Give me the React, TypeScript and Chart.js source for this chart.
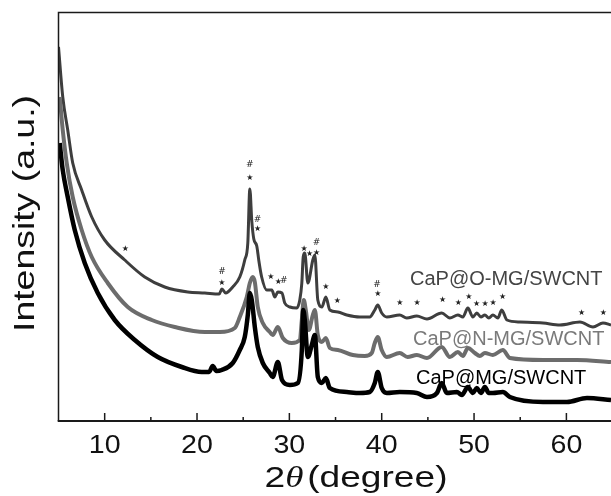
import React, { useEffect, useRef } from "react";
import { Chart, registerables } from "chart.js";

Chart.register(...registerables);

// ---- data (2θ in degrees, intensity in arbitrary units) ----
const oTheta = [5.0,5.46,6.0,6.54,7.51,8.6,10.0,12.17,14.34,16.5,19.0,20.84,22.4,22.7,23.1,23.87,24.63,25.17,25.5,25.72,25.93,26.15,26.47,26.7,27.0,27.55,28.1,28.43,28.75,29.2,29.5,30.05,30.8,31.13,31.35,31.5,31.67,32.0,32.54,32.76,33.08,33.52,33.95,34.38,35.25,36.22,37.63,38.7,39.25,39.57,40.0,40.55,41.95,42.71,43.8,44.9,46.5,47.38,48.25,48.79,49.33,49.87,50.3,50.74,51.17,51.6,52.04,52.58,53.0,53.56,54.97,57.46,59.3,61.47,62.88,63.96,64.83];
const oIntensity = [374,324,291,258,231,204,181,161,144,134,129,128,127,132,128,134,144,161,178,232,200,182,175,160,144,131,131,124,129,128,118,114,113,121,138,164,168,138,161,166,121,114,124,111,109,106,104,104,111,116,108,104,106,103,105,102,108,103,106,104,113,104,108,104,106,103,106,103,111,101,99,98,96,99,94,98,96];

const nTheta = [5.13,5.46,5.89,6.54,7.51,8.6,10.33,12.5,15.1,17.59,20.84,22.47,24.09,24.63,25.39,25.72,26.04,26.26,26.58,27.12,27.88,28.2,28.75,29.29,30.27,31.13,31.35,31.56,31.78,32.1,32.54,32.76,33.08,33.52,33.95,34.38,35.25,36.87,38.17,38.92,39.25,39.57,40.0,40.55,41.95,42.8,43.8,44.9,46.5,47.38,48.25,48.79,49.33,50.09,50.63,51.17,52.04,53.12,53.88,57.46,61.15,64.83];
const nIntensity = [324,291,258,224,191,164,138,114,101,94,89,89,93,104,124,138,144,139,114,98,89,86,94,83,78,81,101,121,111,91,106,111,86,79,83,73,71,66,65,68,78,84,71,64,68,64,66,63,74,64,69,65,73,68,65,68,66,71,63,61,61,59];

const mTheta = [5.13,5.46,6.0,6.76,7.84,9.25,11.09,13.26,15.75,18.35,20.51,21.3,21.7,22.1,22.68,23.87,24.63,25.17,25.5,25.72,25.93,26.26,26.58,27.12,27.88,28.2,28.75,29.2,30.05,30.92,31.35,31.5,31.67,32.0,32.43,32.76,33.08,33.52,33.95,34.38,36.22,37.63,38.7,39.25,39.57,40.0,40.55,41.95,43.8,44.9,45.98,46.5,47.05,48.14,48.68,49.33,49.87,50.3,50.74,51.17,51.6,52.04,53.12,53.88,57.46,60.06,62.23,64.83];
const mIntensity = [278,251,224,191,158,128,101,81,64,54,49,49,55,50,51,58,71,84,106,128,121,94,74,58,48,44,59,41,36,38,71,111,101,64,76,86,44,38,43,33,29,28,29,38,49,33,28,29,28,24,28,38,28,29,26,34,28,33,28,34,28,28,29,24,19,19,23,21];

const seriesNames = ["CaP@O-MG/SWCNT", "CaP@N-MG/SWCNT", "CaP@MG/SWCNT"];

// peak markers (2θ, level, symbol)
const markTheta = [12.25,22.7,22.7,25.72,25.72,26.55,26.55,28.0,28.8,29.4,31.6,32.2,32.94,32.94,33.95,35.2,39.5,39.57,41.97,43.84,46.6,48.3,49.44,50.27,51.2,52.07,53.09,61.65,64.0];
const markLevel = [172,149,138,256,243,201,192,144,139,140,172,167,178,168,134,120,136,127,118,118,121,118,124,117,117,118,124,108,108];
const markSymbol = ["*","#","*","#","*","#","*","*","*","#","*","*","#","*","*","*","#","*","*","*","*","*","*","*","*","*","*","*","*"];

const xTickValues = [10, 20, 30, 40, 50, 60];
const xMinorTickValues = [15, 25, 35, 45, 55];

const X_MIN = 5;
const X_MAX = 64.83;
const Y_MIN = 0;
const Y_MAX = 408.5;

function pts(xs: number[], ys: number[]) {
  const n = Math.min(xs.length, ys.length);
  const out: { x: number; y: number }[] = [];
  for (let i = 0; i < n; i++) out.push({ x: xs[i], y: ys[i] });
  return out;
}

const decorPlugin = {
  id: "decor",
  afterDraw(chart: any) {
    const ctx: CanvasRenderingContext2D = chart.ctx;
    const ca = chart.chartArea;
    const xs = chart.scales.x;
    const ys = chart.scales.y;
    ctx.save();
    ctx.strokeStyle = "#1a1a1a";
    ctx.fillStyle = "#111";
    // frame: left, top, bottom
    ctx.lineWidth = 1.5;
    ctx.beginPath();
    ctx.moveTo(ca.left, ca.bottom);
    ctx.lineTo(ca.left, ca.top);
    ctx.lineTo(ca.right + 2, ca.top);
    ctx.stroke();
    ctx.lineWidth = 2.2;
    ctx.beginPath();
    ctx.moveTo(ca.left - 0.8, ca.bottom);
    ctx.lineTo(ca.right + 2, ca.bottom);
    ctx.stroke();
    // ticks (inward)
    ctx.lineWidth = 1.5;
    xTickValues.forEach((v) => {
      const px = xs.getPixelForValue(v);
      ctx.beginPath();
      ctx.moveTo(px, ca.bottom);
      ctx.lineTo(px, ca.bottom - 8);
      ctx.stroke();
    });
    xMinorTickValues.forEach((v) => {
      const px = xs.getPixelForValue(v);
      ctx.beginPath();
      ctx.moveTo(px, ca.bottom);
      ctx.lineTo(px, ca.bottom - 4);
      ctx.stroke();
    });
    // tick labels
    ctx.font = "26px 'Liberation Sans', Arial, sans-serif";
    ctx.textAlign = "center";
    ctx.textBaseline = "alphabetic";
    xTickValues.forEach((v) => {
      const px = xs.getPixelForValue(v);
      ctx.save();
      ctx.translate(px, 452.5);
      ctx.scale(1.1, 1);
      ctx.fillText(String(v), 0, 0);
      ctx.restore();
    });
    // x title: 2θ(degree)
    {
      const f1 = "29px 'Liberation Sans', Arial, sans-serif";
      const f2 = "italic 29px 'Liberation Serif', 'DejaVu Serif', serif";
      ctx.font = f1;
      const w2 = ctx.measureText("2").width;
      const w4 = ctx.measureText("(degree)").width;
      ctx.font = f2;
      const w3 = ctx.measureText("θ").width;
      const gap = 3;
      const sx = 1.28;
      const total = (w2 + w3 + gap + w4) * sx;
      const cx = 356;
      const x0 = cx - total / 2;
      ctx.save();
      ctx.translate(x0, 487);
      ctx.scale(sx, 1);
      ctx.textAlign = "left";
      ctx.font = f1;
      ctx.fillText("2", 0, 0);
      ctx.font = f2;
      ctx.fillText("θ", w2, 0);
      ctx.font = f1;
      ctx.fillText("(degree)", w2 + w3 + gap, 0);
      ctx.restore();
    }
    // y title
    ctx.save();
    ctx.translate(34, 213.5);
    ctx.rotate(-Math.PI / 2);
    ctx.scale(1.29, 1);
    ctx.font = "29px 'Liberation Sans', Arial, sans-serif";
    ctx.textAlign = "center";
    ctx.fillText("Intensity (a.u.)", 0, 0);
    ctx.restore();
    // series labels
    ctx.font = "20px 'Liberation Sans', Arial, sans-serif";
    ctx.textAlign = "left";
    ctx.fillStyle = "#444444";
    ctx.fillText(seriesNames[0], 410, 284.5);
    ctx.fillStyle = "#7a7a7a";
    ctx.fillText(seriesNames[1], 413, 345);
    ctx.fillStyle = "#000000";
    ctx.fillText(seriesNames[2], 416, 384);
    // peak markers
    ctx.fillStyle = "#222";
    ctx.textAlign = "center";
    ctx.textBaseline = "middle";
    const n = Math.min(markTheta.length, markLevel.length, markSymbol.length);
    for (let i = 0; i < n; i++) {
      const px = xs.getPixelForValue(markTheta[i]);
      const py = ys.getPixelForValue(markLevel[i]);
      if (markSymbol[i] === "*") {
        ctx.font = "8px 'DejaVu Sans', sans-serif";
        ctx.fillText("★", px, py);
      } else {
        ctx.font = "9px 'DejaVu Sans', sans-serif";
        ctx.fillText("#", px, py);
      }
    }
    ctx.restore();
  },
};

export default function App() {
  const ref = useRef<HTMLCanvasElement | null>(null);
  useEffect(() => {
    document.body.style.margin = "0";
    const canvas = ref.current;
    if (!canvas) return;
    const chart = new Chart(canvas, {
      type: "line",
      data: {
        datasets: [
          {
            label: seriesNames[2],
            data: pts(mTheta, mIntensity),
            borderColor: "#000000",
            borderWidth: 4.5,
            pointRadius: 0,
            cubicInterpolationMode: "monotone",
          },
          {
            label: seriesNames[1],
            data: pts(nTheta, nIntensity),
            borderColor: "#6c6c6c",
            borderWidth: 4,
            pointRadius: 0,
            cubicInterpolationMode: "monotone",
          },
          {
            label: seriesNames[0],
            data: pts(oTheta, oIntensity),
            borderColor: "#3e3e3e",
            borderWidth: 3,
            pointRadius: 0,
            cubicInterpolationMode: "monotone",
          },
        ],
      },
      options: {
        responsive: false,
        animation: false,
        devicePixelRatio: 1,
        layout: { padding: { left: 58.5, top: 12.5, right: 0, bottom: 75 } },
        scales: {
          x: { type: "linear", min: X_MIN, max: X_MAX, display: false },
          y: { type: "linear", min: Y_MIN, max: Y_MAX, display: false },
        },
        plugins: { legend: { display: false }, tooltip: { enabled: false } },
      },
      plugins: [decorPlugin],
    } as any);
    return () => chart.destroy();
  }, []);
  return (
    <canvas
      ref={ref}
      width={611}
      height={496}
      style={{ display: "block", width: 611, height: 496, background: "#fff" }}
    />
  );
}
